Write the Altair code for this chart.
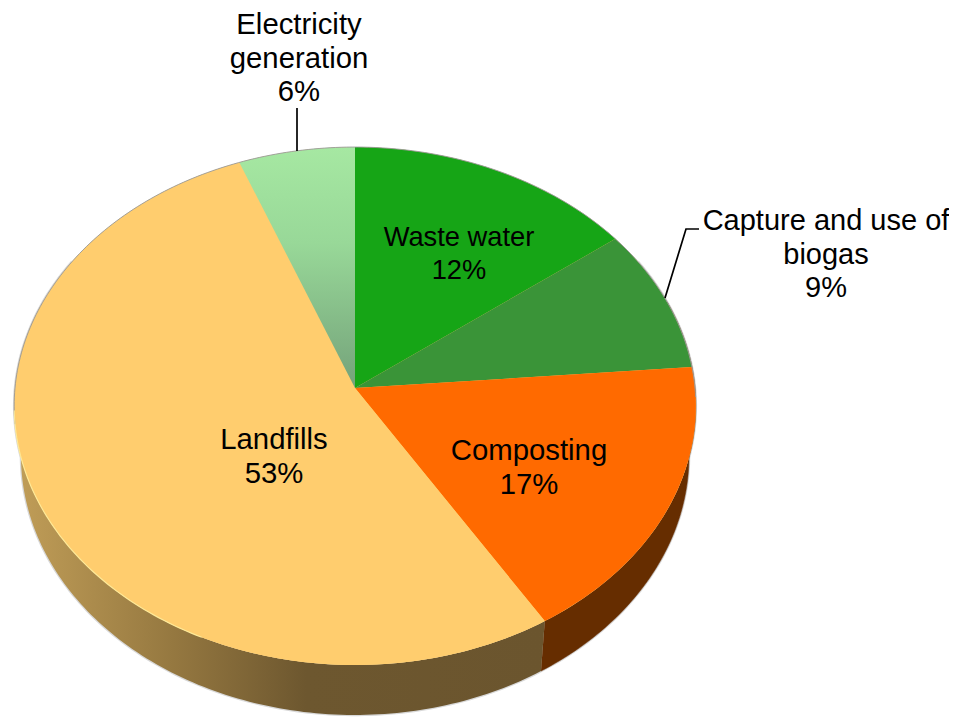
import math
import altair as alt

# Values
categories = ["Waste water", "Capture and use of biogas", "Composting", "Landfills", "Electricity generation"]
label_percent = ["12%", "9%", "17%", "53%", "6%"]
drawn_share = [14.7, 9.0, 17.5, 52.9, 5.9]  # share of the rim each slice occupies as drawn

label_lines = [["Waste water", "12%"], ["Capture and use of", "biogas", "9%"], ["Composting", "17%"],
               ["Landfills", "53%"], ["Electricity", "generation", "6%"]]
label_x = [459, 826, 529, 274, 299]
label_y = [238, 221, 451, 440, 25]
label_size = [27.3, 29.0, 29.3, 29.3, 29.3]
label_lead = [32.5, 33.5, 33.5, 33.5, 33.5]

top_fill = [
    "#16a516",
    "#3a9438",
    "#ff6a00",
    "#ffcd6e",
    {"gradient": "linear", "x1": 0, "y1": 0, "x2": 0, "y2": 1,
     "stops": [{"offset": 0, "color": "#a6e8a2"}, {"offset": 0.4, "color": "#98d898"}, {"offset": 1, "color": "#74a27a"}]},
]
wall_fill = {"gradient": "linear", "x1": 0, "y1": 0, "x2": 1, "y2": 0,
             "stops": [{"offset": 0, "color": "#c19e58"}, {"offset": 0.3, "color": "#957840"},
                       {"offset": 0.55, "color": "#6d572f"}, {"offset": 1, "color": "#6b552e"}]}
wall_dark = "#662d00"

leader_x = [297, 297, 665, 686, 699]
leader_y = [108, 151, 298, 229, 229]
leader_id = ["a", "a", "b", "b", "b"]

# Page margin, and the perspective the top face of the pie was drawn with
OX, OY = 8, 8
CX, CY, A, B, K = 355, 388, 340, 257.7, 0.0695
DEPTH, SHRINK = 50, 0.98


def rim(deg, bottom=False):
    t = math.radians(deg)
    X, Y = math.sin(t), math.cos(t)
    d = 1 + K * Y
    if bottom:
        return [CX - OX + A * SHRINK * X / d, CY - OY + DEPTH - B * Y / d]
    return [CX - OX + A * X / d, CY - OY - B * Y / d]


def arc(a, b, bottom=False):
    n = max(2, int(abs(b - a)) + 1)
    return [rim(a + (b - a) * i / n, bottom) for i in range(n + 1)]


def poly(points):
    return {"type": "Feature", "properties": {},
            "geometry": {"type": "Polygon", "coordinates": [points + [points[0]]]}}


proj = alt.Projection(type="identity", scale=1, translate=[0, 0])


def shape(points, **kw):
    return alt.Chart(alt.InlineData(values=[poly(points)])).mark_geoshape(**kw).project(**proj.to_dict())


def path(points, **kw):
    rows = [{"x": p[0], "y": p[1], "i": j} for j, p in enumerate(points)]
    return alt.Chart(alt.InlineData(values=rows)).mark_line(**kw).encode(
        x=alt.X("x:Q", scale=None), y=alt.Y("y:Q", scale=None), order="i:Q")


layers = []

# soft edge beneath the wall
layers.append(shape(arc(60, 300, True) + arc(300, 60), fill="#ffffff", stroke="#b8b8b8", strokeWidth=2.5, strokeOpacity=0.55))

# wall
cum = [0]
for v in drawn_share:
    cum.append(cum[-1] + v)
deg = [c * 3.6 for c in cum]
layers.append(shape(arc(70, deg[3]) + arc(deg[3], 70, True), fill=wall_dark, stroke=wall_dark, strokeWidth=0.5))
layers.append(shape(arc(deg[3], 290) + arc(290, deg[3], True), fill=wall_fill, stroke=None, strokeWidth=0))

# top face
layers.append(shape(arc(0, 360), fill="#ffcd6e", stroke=None, strokeWidth=0))
apex = [CX - OX, CY - OY]
for i, f in enumerate(top_fill):
    layers.append(shape([apex] + arc(deg[i], deg[i + 1]), fill=f, stroke=None, strokeWidth=0))

# thin grey edge on the far rim, pale highlight along the near-left rim
layers.append(path(arc(262, 452), color="#9a9a9a", strokeWidth=0.9))
layers.append(path(arc(205, 265), color="#ffec9a", strokeWidth=1.2, opacity=0.9))

# leaders
ld = [{"x": x - OX, "y": y - OY, "g": g, "i": j} for j, (x, y, g) in enumerate(zip(leader_x, leader_y, leader_id))]
layers.append(alt.Chart(alt.InlineData(values=ld)).mark_line(color="#000000", strokeWidth=1.7).encode(
    x=alt.X("x:Q", scale=None), y=alt.Y("y:Q", scale=None), detail="g:N", order="i:Q"))

# labels
lb = []
for lines, x, y, fs, lead, c in zip(label_lines, label_x, label_y, label_size, label_lead, categories):
    for n, t in enumerate(lines):
        lb.append({"x": x - OX, "y": y - OY + n * lead, "t": t, "fs": fs, "c": c})
layers.append(alt.Chart(alt.InlineData(values=lb)).mark_text(
    font="Liberation Sans", color="#000000", align="center", baseline="middle").encode(
    x=alt.X("x:Q", scale=None), y=alt.Y("y:Q", scale=None), text="t:N",
    size=alt.Size("fs:Q", scale=None, legend=None)))

chart = alt.layer(*layers).properties(
    width=941, height=709, padding=0, background="#ffffff",
    autosize=alt.AutoSizeParams(type="none"),
).configure_view(stroke=None).configure_axis(disable=True)

chart.save("out.html", embed_options={"renderer": "svg", "actions": False})
